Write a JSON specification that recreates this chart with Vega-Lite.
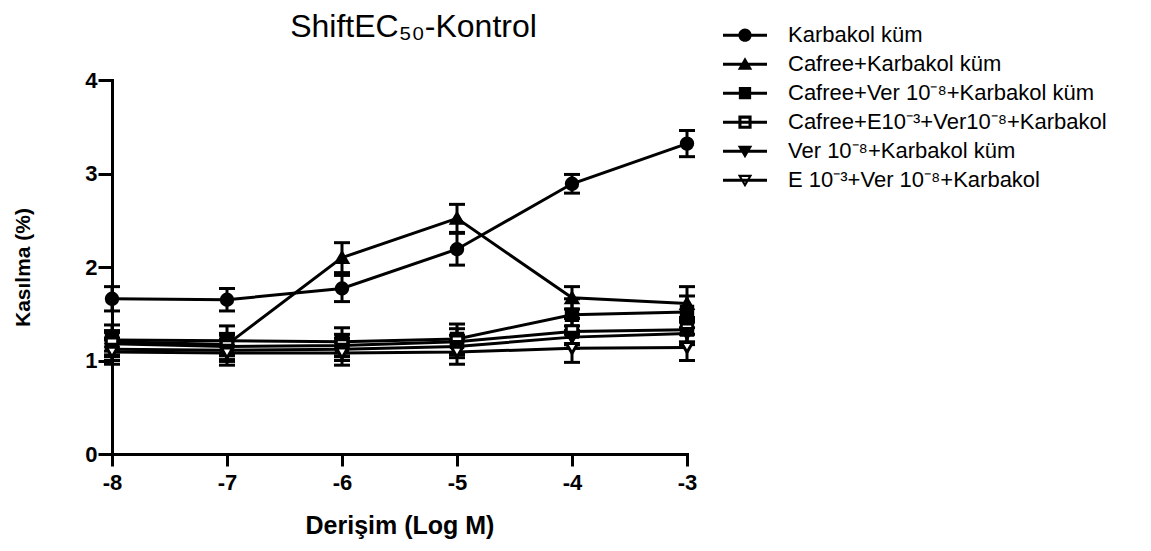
{
  "$schema": "https://vega.github.io/schema/vega-lite/v6.json",
  "autosize": "none",
  "width": 575,
  "height": 374,
  "padding": {"left": 112, "top": 80, "right": 464, "bottom": 97},
  "background": "white",
  "title": {
    "text": "ShiftEC₅₀-Kontrol",
    "font": "Liberation Sans",
    "fontSize": 32,
    "fontWeight": "normal",
    "color": "black",
    "anchor": "middle",
    "baseline": "alphabetic",
    "offset": -16,
    "dy": 32,
    "dx": 14
  },
  "config": {
    "view": {"stroke": null},
    "axis": {
      "domainColor": "black",
      "domainWidth": 3,
      "domainCap": "square",
      "tickColor": "black",
      "tickWidth": 3,
      "grid": false,
      "labelFont": "Liberation Sans",
      "labelFontWeight": "bold",
      "labelFontSize": 22,
      "labelColor": "black",
      "titleFont": "Liberation Sans",
      "titleFontWeight": "bold",
      "titleColor": "black",
      "labelExpr": "'' + datum.value"
    }
  },
  "datasets": {
    "pts": [
      {"s": "Karbakol küm", "x": -8, "y": 1.66, "e": 0.13},
      {"s": "Karbakol küm", "x": -7, "y": 1.65, "e": 0.12},
      {"s": "Karbakol küm", "x": -6, "y": 1.77, "e": 0.14},
      {"s": "Karbakol küm", "x": -5, "y": 2.19, "e": 0.17},
      {"s": "Karbakol küm", "x": -4, "y": 2.89, "e": 0.10},
      {"s": "Karbakol küm", "x": -3, "y": 3.32, "e": 0.14},
      {"s": "Cafree+Karbakol küm", "x": -8, "y": 1.20, "e": 0.10},
      {"s": "Cafree+Karbakol küm", "x": -7, "y": 1.17, "e": 0.10},
      {"s": "Cafree+Karbakol küm", "x": -6, "y": 2.10, "e": 0.16},
      {"s": "Cafree+Karbakol küm", "x": -5, "y": 2.52, "e": 0.15},
      {"s": "Cafree+Karbakol küm", "x": -4, "y": 1.67, "e": 0.12},
      {"s": "Cafree+Karbakol küm", "x": -3, "y": 1.61, "e": 0.18},
      {"s": "Cafree+Ver 10⁻⁸+Karbakol küm", "x": -8, "y": 1.22, "e": 0.16},
      {"s": "Cafree+Ver 10⁻⁸+Karbakol küm", "x": -7, "y": 1.21, "e": 0.16},
      {"s": "Cafree+Ver 10⁻⁸+Karbakol küm", "x": -6, "y": 1.20, "e": 0.15},
      {"s": "Cafree+Ver 10⁻⁸+Karbakol küm", "x": -5, "y": 1.23, "e": 0.16},
      {"s": "Cafree+Ver 10⁻⁸+Karbakol küm", "x": -4, "y": 1.49, "e": 0.17},
      {"s": "Cafree+Ver 10⁻⁸+Karbakol küm", "x": -3, "y": 1.52, "e": 0.17},
      {"s": "Cafree+E10⁻³+Ver10⁻⁸+Karbakol", "x": -8, "y": 1.18, "e": 0.14},
      {"s": "Cafree+E10⁻³+Ver10⁻⁸+Karbakol", "x": -7, "y": 1.15, "e": 0.14},
      {"s": "Cafree+E10⁻³+Ver10⁻⁸+Karbakol", "x": -6, "y": 1.16, "e": 0.12},
      {"s": "Cafree+E10⁻³+Ver10⁻⁸+Karbakol", "x": -5, "y": 1.20, "e": 0.14},
      {"s": "Cafree+E10⁻³+Ver10⁻⁸+Karbakol", "x": -4, "y": 1.31, "e": 0.14},
      {"s": "Cafree+E10⁻³+Ver10⁻⁸+Karbakol", "x": -3, "y": 1.33, "e": 0.13},
      {"s": "Ver 10⁻⁸+Karbakol küm", "x": -8, "y": 1.12, "e": 0.12},
      {"s": "Ver 10⁻⁸+Karbakol küm", "x": -7, "y": 1.11, "e": 0.12},
      {"s": "Ver 10⁻⁸+Karbakol küm", "x": -6, "y": 1.12, "e": 0.12},
      {"s": "Ver 10⁻⁸+Karbakol küm", "x": -5, "y": 1.15, "e": 0.12},
      {"s": "Ver 10⁻⁸+Karbakol küm", "x": -4, "y": 1.25, "e": 0.12},
      {"s": "Ver 10⁻⁸+Karbakol küm", "x": -3, "y": 1.29, "e": 0.12},
      {"s": "E 10⁻³+Ver 10⁻⁸+Karbakol", "x": -8, "y": 1.09, "e": 0.13},
      {"s": "E 10⁻³+Ver 10⁻⁸+Karbakol", "x": -7, "y": 1.08, "e": 0.13},
      {"s": "E 10⁻³+Ver 10⁻⁸+Karbakol", "x": -6, "y": 1.08, "e": 0.13},
      {"s": "E 10⁻³+Ver 10⁻⁸+Karbakol", "x": -5, "y": 1.09, "e": 0.13},
      {"s": "E 10⁻³+Ver 10⁻⁸+Karbakol", "x": -4, "y": 1.13, "e": 0.15},
      {"s": "E 10⁻³+Ver 10⁻⁸+Karbakol", "x": -3, "y": 1.14, "e": 0.14}
    ]
  },
  "data": {"name": "pts"},
  "encoding": {
    "x": {
      "field": "x", "type": "quantitative",
      "scale": {"domain": [-8, -3], "nice": false, "zero": false},
      "axis": {"title": "Derişim (Log M)", "values": [-8, -7, -6, -5, -4, -3], "tickSize": 12, "labelPadding": 6, "titleFontSize": 25, "titlePadding": 20, "labelFlush": false}
    },
    "y": {
      "field": "y", "type": "quantitative",
      "scale": {"domain": [0, 4], "nice": false},
      "axis": {"title": "Kasılma (%)", "values": [0, 1, 2, 3, 4], "tickSize": 14, "labelPadding": 1, "titleFontSize": 21, "titlePadding": 51, "labelFlush": false}
    }
  },
  "layer": [
    {
      "mark": {"type": "errorbar", "ticks": {"color": "black", "opacity": 1}, "rule": {"color": "black", "opacity": 1}, "thickness": 3, "size": 16, "color": "black", "opacity": 1},
      "encoding": {
        "y": {"field": "y", "type": "quantitative", "title": "Kasılma (%)"},
        "yError": {"field": "e"},
        "detail": {"field": "s"}
      }
    },
    {
      "mark": {"type": "line", "color": "black", "strokeWidth": 3},
      "encoding": {"detail": {"field": "s"}}
    },
    {
      "mark": {"type": "point", "stroke": "black", "strokeWidth": 3, "size": 130, "opacity": 1},
      "encoding": {
        "shape": {
          "field": "s", "type": "nominal",
          "scale": {
            "domain": ["Karbakol küm", "Cafree+Karbakol küm", "Cafree+Ver 10⁻⁸+Karbakol küm", "Cafree+E10⁻³+Ver10⁻⁸+Karbakol", "Ver 10⁻⁸+Karbakol küm", "E 10⁻³+Ver 10⁻⁸+Karbakol"],
            "range": ["circle", "triangle-up", "square", "square", "triangle-down", "triangle-down"]
          },
          "legend": null
        },
        "fill": {
          "field": "s", "type": "nominal",
          "scale": {
            "domain": ["Karbakol küm", "Cafree+Karbakol küm", "Cafree+Ver 10⁻⁸+Karbakol küm", "Cafree+E10⁻³+Ver10⁻⁸+Karbakol", "Ver 10⁻⁸+Karbakol küm", "E 10⁻³+Ver 10⁻⁸+Karbakol"],
            "range": ["black", "black", "black", "white", "black", "white"]
          },
          "legend": null
        }
      }
    },
    {
      "mark": {"type": "point", "filled": true, "color": "black", "opacity": 0, "size": 1936},
      "encoding": {
        "shape": {
          "field": "s", "type": "nominal",
          "scale": {
            "domain": ["Karbakol küm", "Cafree+Karbakol küm", "Cafree+Ver 10⁻⁸+Karbakol küm", "Cafree+E10⁻³+Ver10⁻⁸+Karbakol", "Ver 10⁻⁸+Karbakol küm", "E 10⁻³+Ver 10⁻⁸+Karbakol"],
            "range": [
              "M-1,-0.07H1V0.07H-1Z M0.3,0A0.3,0.3 0 1,1 -0.3,0A0.3,0.3 0 1,1 0.3,0Z",
              "M-1,-0.07H1V0.07H-1Z M0,-0.32L0.33,0.25H-0.33Z",
              "M-1,-0.07H1V0.07H-1Z M-0.28,-0.28H0.28V0.28H-0.28Z",
              "M-1,-0.07H1V0.07H-1Z M-0.3,-0.3H0.3V0.3H-0.3Z M-0.16,-0.16V0.16H0.16V-0.16Z",
              "M-1,-0.07H1V0.07H-1Z M-0.33,-0.25H0.33L0,0.32Z",
              "M-1,-0.07H1V0.07H-1Z M-0.33,-0.25H0.33L0,0.32Z M-0.16,-0.15L0,0.13L0.16,-0.15Z"
            ]
          },
          "legend": {
            "title": null,
            "orient": "none",
            "legendX": 611,
            "legendY": -59,
            "padding": 0,
            "symbolOffset": 0,
            "symbolSize": 1936,
            "symbolOpacity": 1,
            "symbolFillColor": "black",
            "symbolStrokeWidth": 0,
            "labelFont": "Liberation Sans",
            "labelFontSize": 22,
            "labelColor": "black",
            "labelOffset": 21,
            "labelLimit": 500,
            "clipHeight": 28.4,
            "rowPadding": 0,
            "encode": {
              "symbols": {"update": {"opacity": {"value": 1}, "fill": {"value": "black"}, "strokeWidth": {"value": 0}}}
            }
          }
        }
      }
    }
  ],
  "resolve": {"scale": {"shape": "independent"}, "legend": {"shape": "independent"}}
}
